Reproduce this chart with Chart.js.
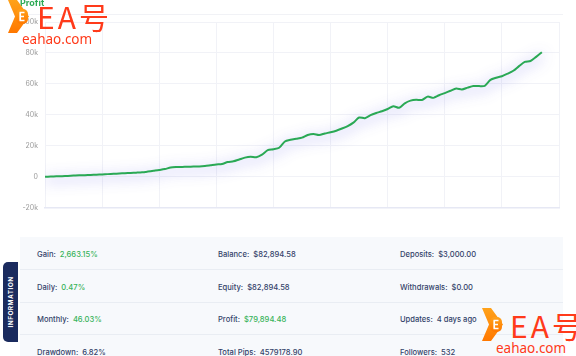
<!DOCTYPE html>
<html>
<head>
<meta charset="utf-8">
<script src="https://cdn.jsdelivr.net/npm/chart.js@4.4.0/dist/chart.umd.min.js"></script>
<style>
  html, body { margin:0; padding:0; background:#fff; }
  body { width:576px; height:356px; position:relative; overflow:hidden; font-family: Inter, "Open Sans", sans-serif; }
  #wrap { position:absolute; left:0; top:0; width:576px; height:219px; }
  #title { position:absolute; left:20px; top:-3px; font-size:9px; font-weight:700; color:#2eaa55; }
  #hline { position:absolute; left:20px; top:14px; width:543px; height:1px; background:#f1f2f6; }
  #panel { position:absolute; left:20px; top:237px; width:543px; height:130px; background:#f7f9fc; }
  .row { position:absolute; left:0; width:543px; height:32px; border-bottom:1px solid #e9edf3; font-size:7.6px; font-weight:500; color:#34436a; }
  .cell { position:absolute; top:0; line-height:35px; white-space:nowrap; }
  .v { margin-left:4px; }
  .g { color:#37b35a; }
  #tab { position:absolute; left:3px; top:262px; width:15px; height:80px; background:#1b2b5e; border-radius:5px 0 0 5px; }
  #tab span { position:absolute; left:50%; top:50%; transform:translate(-50%,-50%) rotate(-90deg); color:#fff; font-size:6.4px; font-weight:700; letter-spacing:0.5px; white-space:nowrap; }
  .wm { position:absolute; color:#ff3a1a; font-family:"Noto Sans CJK SC", "Noto Sans", sans-serif; white-space:nowrap; }
  .wmbig { font-size:30px; line-height:30px; font-weight:400; letter-spacing:3px; }
  .wmsmall { font-size:13.5px; line-height:14px; font-family:"Noto Sans","DejaVu Sans",sans-serif; }
</style>
</head>
<body>
<div id="hline"></div>
<div id="wrap"><canvas id="c" width="576" height="219"></canvas></div>
<div id="title">Profit</div>

<div id="panel"></div>
<div id="tab"><span>INFORMATION</span></div>

<svg class="logo" style="position:absolute;left:8px;top:0px" width="22" height="33" viewBox="0 0 22 33">
  <defs><linearGradient id="lg1" x1="0" y1="0" x2="0" y2="1"><stop offset="0" stop-color="#ffa21a"/><stop offset="1" stop-color="#ff7800"/></linearGradient></defs>
  <polygon points="0,0 9,0 21,16.5 9,33 0,33 7,16.5" fill="url(#lg1)"/>
  <rect x="8" y="9" width="12" height="15" rx="5" fill="url(#lg1)"/>
  <path d="M11.5 12.5 h5 M11.5 16.5 h4.5 M11.5 20.5 h5 M12.2 12.5 v8" stroke="#fff" stroke-width="1.7" fill="none"/>
</svg>
<div class="wm wmbig" style="left:37px;top:1px">EA号</div>
<div class="wm wmsmall" style="left:22px;top:32px">eahao.com</div>

<svg class="logo" style="position:absolute;left:482px;top:308px" width="22" height="33" viewBox="0 0 22 33">
  <defs><linearGradient id="lg2" x1="0" y1="0" x2="0" y2="1"><stop offset="0" stop-color="#ffa21a"/><stop offset="1" stop-color="#ff7800"/></linearGradient></defs>
  <polygon points="0,0 9,0 21,16.5 9,33 0,33 7,16.5" fill="url(#lg2)"/>
  <rect x="8" y="9" width="12" height="15" rx="5" fill="url(#lg2)"/>
  <path d="M11.5 12.5 h5 M11.5 16.5 h4.5 M11.5 20.5 h5 M12.2 12.5 v8" stroke="#fff" stroke-width="1.7" fill="none"/>
</svg>
<div class="wm wmbig" style="left:510px;top:310px">EA号</div>
<div class="wm wmsmall" style="left:496px;top:341px">eahao.com</div>

<script>
// ---- data ----
const profitValues = [
  0, 150, 300, 450, 600, 800, 1000, 1100, 1250, 1400,
  1550, 1750, 1950, 2150, 2350, 2500, 2700, 2950, 3400, 3900,
  4400, 5000, 6000, 6300, 6400, 6500, 6600, 6700, 7000, 7500,
  8000, 8300, 9600, 10000, 11200, 12400, 13000, 12700, 14400, 17200,
  17800, 18800, 22800, 23900, 24600, 25300, 27000, 27600, 27000, 28000,
  28800, 29800, 31200, 32800, 35000, 38300, 37900, 39800, 41200, 42400,
  43800, 45600, 44600, 47500, 49200, 49800, 49600, 51800, 51000, 52700,
  54100, 55600, 57000, 56400, 57600, 58700, 58600, 58800, 62600, 64000,
  65000, 66600, 68500, 71500, 74200, 74800, 77500, 80500
];
const yTicks = [-20000, 0, 20000, 40000, 60000, 80000, 100000];
const yTickLabels = ['-20k', '0', '20k', '40k', '60k', '80k', '100k'];

const infoLabels = [
  ['Gain:', 'Balance:', 'Deposits:'],
  ['Daily:', 'Equity:', 'Withdrawals:'],
  ['Monthly:', 'Profit:', 'Updates:'],
  ['Drawdown:', 'Total Pips:', 'Followers:']
];
const infoValues = [
  ['2,663.15%', '$82,894.58', '$3,000.00'],
  ['0.47%', '$82,894.58', '$0.00'],
  ['46.03%', '$79,894.48', '4 days ago'],
  ['6.82%', '4579178.90', '532']
];
const infoGreen = [
  [true, false, false],
  [true, false, false],
  [true, true, false],
  [false, false, false]
];

// ---- info panel ----
const panel = document.getElementById('panel');
const colX = [17, 198, 380];
infoLabels.forEach((r, i) => {
  const row = document.createElement('div');
  row.className = 'row';
  row.style.top = (i * 32.5) + 'px';
  r.forEach((lab, j) => {
    const c = document.createElement('div');
    c.className = 'cell';
    c.style.left = colX[j] + 'px';
    c.innerHTML = lab + '<span class="v' + (infoGreen[i][j] ? ' g' : '') + '">' + infoValues[i][j] + '</span>';
    row.appendChild(c);
  });
  panel.appendChild(row);
});

// ---- chart ----
const points = profitValues.map((v, i) => ({ x: i, y: v }));

const glow = {
  id: 'glow',
  beforeDatasetDraw(chart) {
    const ctx = chart.ctx;
    ctx.save();
    ctx.shadowColor = 'rgba(80,80,230,0.7)';
    ctx.shadowBlur = 14;
    ctx.shadowOffsetX = 0;
    ctx.shadowOffsetY = 3;
  },
  afterDatasetDraw(chart) {
    chart.ctx.restore();
  }
};

new Chart(document.getElementById('c'), {
  type: 'line',
  data: {
    datasets: [{
      data: points,
      borderColor: '#2aa955',
      borderWidth: 2,
      pointRadius: 0,
      tension: 0.25,
      fill: false
    }]
  },
  options: {
    responsive: false,
    animation: false,
    layout: { padding: { top: 22, right: 17, bottom: 4, left: 0 } },
    plugins: { legend: { display: false }, tooltip: { enabled: false } },
    scales: {
      x: {
        type: 'linear',
        min: 0, max: 90,
        ticks: { display: false, stepSize: 10 },
        grid: { color: '#f1f2f7', drawTicks: false },
        border: { display: true, color: '#e6e8f4', width: 1.5 }
      },
      y: {
        min: -20000, max: 100000,
        afterFit(s) { s.width = 45; },
        afterBuildTicks(s) { s.ticks = yTicks.map(v => ({ value: v })); },
        ticks: {
          padding: 7,
          color: '#9a9a9a',
          font: { size: 7, family: 'Inter, "Open Sans", sans-serif' },
          callback: (v) => yTickLabels[yTicks.indexOf(v)]
        },
        grid: { color: '#f1f2f7', drawTicks: false },
        border: { display: false }
      }
    }
  },
  plugins: [glow]
});
</script>
</body>
</html>
